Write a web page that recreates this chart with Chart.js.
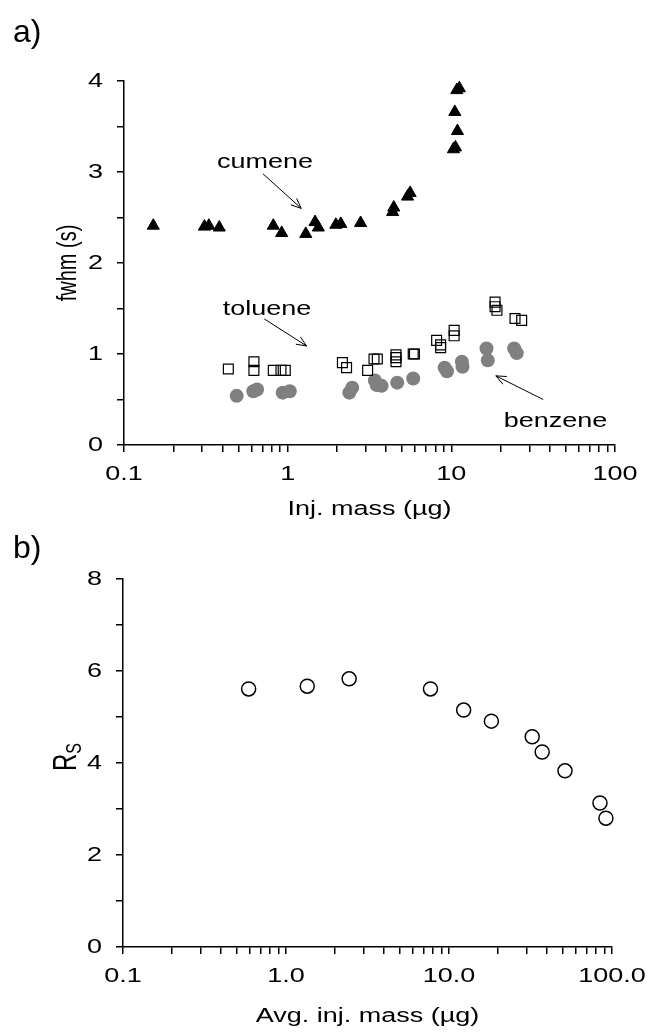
<!DOCTYPE html>
<html>
<head>
<meta charset="utf-8">
<script src="https://cdn.jsdelivr.net/npm/chart.js@4.4.1/dist/chart.umd.min.js"></script>
<style>
  html, body { margin: 0; padding: 0; background: #fff; }
  .panel { position: relative; width: 647px; }
  #boxA { height: 525px; }
  #boxB { height: 511px; }
</style>
</head>
<body>
<div class="panel" id="boxA"><canvas id="chartA"></canvas></div>
<div class="panel" id="boxB"><canvas id="chartB"></canvas></div>
<script>
// ---- panel a) : peak width vs injected mass ----
const cumeneMass = [0.151, 0.31, 0.33, 0.382, 0.817, 0.919, 1.29, 1.47, 1.54, 1.97, 2.11, 2.79,
                    4.38, 4.45, 5.4, 5.6, 10.3, 10.6, 10.5, 10.9, 10.8, 11.2];
const cumeneFwhm = [2.41, 2.40, 2.41, 2.39, 2.41, 2.33, 2.32, 2.45, 2.39, 2.42, 2.43, 2.44,
                    2.56, 2.61, 2.73, 2.77, 3.25, 3.27, 3.66, 3.45, 3.90, 3.92];

const tolueneMass = [0.434, 0.622, 0.622, 0.817, 0.91, 0.967, 2.16, 2.29, 3.08, 3.37, 3.53,
                     4.59, 4.59, 4.59, 5.85, 5.95, 8.13, 8.6, 8.6, 10.4, 10.4, 18.5, 18.5, 19.0, 24.5, 26.9];
const tolueneFwhm = [0.835, 0.915, 0.82, 0.82, 0.82, 0.82, 0.905, 0.85, 0.82, 0.945, 0.945,
                     0.99, 0.915, 0.96, 1.0, 1.0, 1.15, 1.10, 1.07, 1.26, 1.20, 1.57, 1.52, 1.48, 1.39, 1.37];

const benzeneMass = [0.488, 0.617, 0.65, 0.932, 1.03, 2.38, 2.48, 3.41, 3.5, 3.75, 4.67, 5.85,
                     9.1, 9.4, 11.6, 11.7, 16.4, 16.7, 24.2, 25.1];
const benzeneFwhm = [0.54, 0.59, 0.61, 0.575, 0.59, 0.575, 0.63, 0.71, 0.66, 0.65, 0.685, 0.73,
                     0.85, 0.81, 0.915, 0.86, 1.06, 0.93, 1.06, 1.01];

// ---- panel b) : resolution vs average injected mass ----
const avgMass = [0.59, 1.35, 2.44, 7.7, 12.3, 18.2, 32.4, 37.3, 51.5, 84.4, 91.8];
const resolution = [5.61, 5.67, 5.83, 5.61, 5.15, 4.91, 4.57, 4.24, 3.83, 3.13, 2.80];

// tick labels
const decades = [0.1, 1, 10, 100];
const xLabelsA = ['0.1', '1', '10', '100'];
const xLabelsB = ['0.1', '1.0', '10.0', '100.0'];
const yLabelsA = [0, 1, 2, 3, 4];
const yLabelsB = [0, 2, 4, 6, 8];

// text annotations (anchors in data units: [mass, y])
const notesA = [
  { text: 'cumene',  at: [0.727, 3.04], from: [0.707, 2.98], to: [1.21, 2.60] },
  { text: 'toluene', at: [0.748, 1.43], from: [0.720, 1.385], to: [1.306, 1.088] },
  { text: 'benzene', at: [43.3, 0.20], from: [36.4, 0.50], to: [18.7, 0.76] }
];

const FONT = '"Liberation Sans", Arial, sans-serif';
const TEXT_STRETCH = 1.35; // the original figure's lettering is drawn wide

Chart.defaults.font.family = FONT;
Chart.defaults.font.size = 20;
Chart.defaults.color = '#000';

function toPoints(xs, ys) {
  return xs.map((x, i) => ({ x: x, y: ys[i] }));
}

// every text drawn by chart.js gets widened horizontally
const wideText = {
  id: 'wideText',
  beforeInit(chart) {
    const ctx = chart.ctx;
    const raw = ctx.fillText;
    ctx.rawFillText = raw;
    ctx.fillText = function (t, x, y, mw) {
      this.save();
      this.translate(x, y);
      this.scale(TEXT_STRETCH, 1);
      if (mw === undefined) raw.call(this, t, 0, 0);
      else raw.call(this, t, 0, 0, mw / TEXT_STRETCH);
      this.restore();
    };
  }
};

function arrow(ctx, x0, y0, x1, y1) {
  const a = Math.atan2(y1 - y0, x1 - x0), h = 11, w = 0.4;
  ctx.beginPath();
  ctx.moveTo(x0, y0);
  ctx.lineTo(x1, y1);
  ctx.moveTo(x1 - h * Math.cos(a - w), y1 - h * Math.sin(a - w));
  ctx.lineTo(x1, y1);
  ctx.lineTo(x1 - h * Math.cos(a + w), y1 - h * Math.sin(a + w));
  ctx.stroke();
}

const notes = {
  id: 'notes',
  afterDatasetsDraw(chart, args, opts) {
    const ctx = chart.ctx, xs = chart.scales.x, ys = chart.scales.y;
    ctx.save();
    ctx.font = '20px ' + FONT;
    ctx.fillStyle = '#000';
    ctx.strokeStyle = '#000';
    ctx.lineWidth = 1;
    ctx.textAlign = 'center';
    ctx.textBaseline = 'alphabetic';
    (opts.items || []).forEach(n => {
      ctx.fillText(n.text, xs.getPixelForValue(n.at[0]), ys.getPixelForValue(n.at[1]));
      arrow(ctx, xs.getPixelForValue(n.from[0]), ys.getPixelForValue(n.from[1]),
                 xs.getPixelForValue(n.to[0]), ys.getPixelForValue(n.to[1]));
    });
    ctx.restore();
  }
};

// panel tag + rotated y title (with optional subscript)
const frame = {
  id: 'frame',
  afterDraw(chart, args, o) {
    const ctx = chart.ctx, raw = ctx.rawFillText, area = chart.chartArea;
    ctx.save();
    ctx.fillStyle = '#000';
    ctx.font = '32px ' + FONT;
    ctx.textAlign = 'left';
    ctx.textBaseline = 'alphabetic';
    raw.call(ctx, o.tag, 13, o.tagY);

    ctx.translate(area.left - o.titleDx, (area.top + area.bottom) / 2 + (o.titleDy || 0));
    ctx.scale(TEXT_STRETCH, 1);
    ctx.rotate(-Math.PI / 2);
    const mainFont = o.titleSize + 'px ' + FONT, subFont = o.subSize + 'px ' + FONT;
    ctx.font = mainFont;
    const w1 = ctx.measureText(o.title).width;
    let w2 = 0;
    if (o.sub) { ctx.font = subFont; w2 = ctx.measureText(o.sub).width; }
    ctx.textBaseline = 'middle';
    ctx.font = mainFont;
    raw.call(ctx, o.title, -(w1 + w2) / 2, 0);
    if (o.sub) {
      ctx.font = subFont;
      raw.call(ctx, o.sub, -(w1 + w2) / 2 + w1, o.subDy);
    }
    ctx.restore();
  }
};

function logAxis(labels, boxHeight, titleText, titlePad) {
  return {
    type: 'logarithmic',
    min: 0.1,
    max: 100,
    afterBuildTicks(scale) {
      const t = [];
      for (let d = 0; d < decades.length - 1; d++) {
        for (let k = 1; k < 10; k++) t.push({ value: k * decades[d] });
      }
      t.push({ value: decades[decades.length - 1] });
      scale.ticks = t;
    },
    afterFit(scale) { scale.height = boxHeight; },
    ticks: {
      autoSkip: false,
      maxRotation: 0,
      padding: 10,
      callback(v) {
        const i = decades.findIndex(d => Math.abs(d - v) / d < 1e-6);
        return i >= 0 ? labels[i] : '';
      }
    },
    grid: { drawOnChartArea: false, drawTicks: true, tickLength: 7, color: '#000', lineWidth: 1.5 },
    border: { display: true, color: '#000', width: 1.5 },
    title: { display: true, text: titleText, font: { size: 20 }, padding: { top: 0, bottom: titlePad } }
  };
}

function linAxis(max, step, shown, boxWidth) {
  return {
    type: 'linear',
    min: 0,
    max: max,
    afterFit(scale) { scale.width = boxWidth; },
    ticks: {
      stepSize: step,
      autoSkip: false,
      padding: 14,
      callback(v) { return shown.indexOf(v) >= 0 ? String(v) : ''; }
    },
    grid: { drawOnChartArea: false, drawTicks: true, tickLength: 7, color: '#000', lineWidth: 1.5 },
    border: { display: true, color: '#000', width: 1.5 }
  };
}

new Chart(document.getElementById('chartA'), {
  type: 'scatter',
  data: {
    datasets: [
      {
        label: 'cumene', data: toPoints(cumeneMass, cumeneFwhm), order: 0, clip: false,
        pointStyle: 'triangle', pointRadius: 7, backgroundColor: '#000', borderColor: '#000', borderWidth: 1
      },
      {
        label: 'toluene', data: toPoints(tolueneMass, tolueneFwhm), order: 1, clip: false,
        pointStyle: 'rect', pointRadius: 7, backgroundColor: 'rgba(255,255,255,0)', borderColor: '#000', borderWidth: 1.2
      },
      {
        label: 'benzene', data: toPoints(benzeneMass, benzeneFwhm), order: 2, clip: false,
        pointStyle: 'circle', pointRadius: 7, backgroundColor: '#808080', borderColor: '#808080', borderWidth: 0
      }
    ]
  },
  options: {
    responsive: true,
    maintainAspectRatio: false,
    animation: false,
    events: [],
    layout: { padding: { top: 81, right: 32, left: 0, bottom: 0 } },
    scales: {
      x: logAxis(xLabelsA, 80, 'Inj. mass (\u00b5g)', 4),
      y: linAxis(4, 0.5, yLabelsA, 124)
    },
    plugins: {
      legend: { display: false },
      tooltip: { enabled: false },
      notes: { items: notesA },
      frame: { tag: 'a)', tagY: 42, title: 'fwhm (s)', titleSize: 20, titleDx: 55 }
    }
  },
  plugins: [wideText, notes, frame]
});

new Chart(document.getElementById('chartB'), {
  type: 'scatter',
  data: {
    datasets: [
      {
        label: 'Rs', data: toPoints(avgMass, resolution), clip: false,
        pointStyle: 'circle', pointRadius: 7, backgroundColor: '#fff', borderColor: '#000', borderWidth: 1.5
      }
    ]
  },
  options: {
    responsive: true,
    maintainAspectRatio: false,
    animation: false,
    events: [],
    layout: { padding: { top: 54, right: 32, left: 0, bottom: 0 } },
    scales: {
      x: logAxis(xLabelsB, 89, 'Avg. inj. mass (\u00b5g)', 8),
      y: linAxis(8, 1, yLabelsB, 123)
    },
    plugins: {
      legend: { display: false },
      tooltip: { enabled: false },
      notes: { items: [] },
      frame: { tag: 'b)', tagY: 33, title: 'R', sub: 'S', titleSize: 24, subSize: 16, subDy: 6, titleDx: 56, titleDy: -6 }
    }
  },
  plugins: [wideText, notes, frame]
});
</script>
</body>
</html>
